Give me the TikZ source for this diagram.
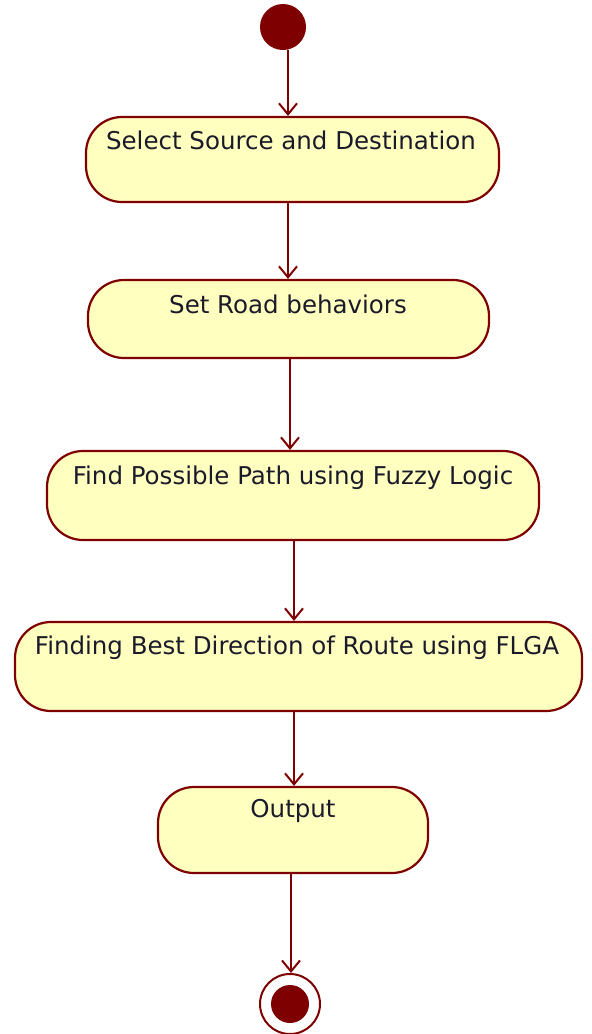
\documentclass[tikz,border=0pt]{standalone}
\usepackage{fontspec}
\setmainfont{DejaVu Sans}
\usetikzlibrary{arrows.meta}
\definecolor{umlred}{HTML}{7F0000}
\definecolor{umlfill}{HTML}{FFFFC0}
\definecolor{umltext}{HTML}{1A1A2A}
\tikzset{
  actbox/.style={draw=umlred, fill=umlfill, line width=2.2pt, rounded corners=36pt, inner sep=0pt},
  acttext/.style={anchor=center, font=\fontsize{24.5}{28}\selectfont, text=umltext, inner sep=0pt},
  flow/.style={draw=umlred, line width=2.2pt, -{Straight Barb[length=11pt,width=18pt,line width=2pt]}},
}
\begin{document}
\begin{tikzpicture}[x=1pt,y=-1pt]
\useasboundingbox (0,0) rectangle (592,1034);
\node[circle, fill=umlred, minimum size=46pt, inner sep=0pt] (start) at (283,27) {};
\node[actbox, minimum width=413pt, minimum height=85pt] (b1) at (292.5,159.5) {};
\node[acttext] (t1) at (291,140) {Select Source and Destination};
\node[actbox, minimum width=401pt, minimum height=78pt] (b2) at (288.5,319) {};
\node[acttext] (t2) at (288,304) {Set Road behaviors};
\node[actbox, minimum width=492pt, minimum height=89pt] (b3) at (293,495.5) {};
\node[acttext] (t3) at (293,478) {Find Possible Path using Fuzzy Logic};
\node[actbox, minimum width=567pt, minimum height=89pt] (b4) at (298.5,666.5) {};
\node[acttext] (t4) at (297,648) {Finding Best Direction of Route using FLGA};
\node[actbox, minimum width=270pt, minimum height=86pt] (b5) at (293,830) {};
\node[acttext] (t5) at (293,811) {Output};
\node[circle, draw=umlred, line width=2pt, fill=white, minimum size=60pt, inner sep=0pt] (endo) at (290,1004) {};
\node[circle, fill=umlred, minimum size=38pt, inner sep=0pt] (endi) at (endo.center) {};
\draw[flow] (start.south -| 288,0) -- (288,0 |- b1.north);
\draw[flow] (b1.south -| 288,0) -- (288,0 |- b2.north);
\draw[flow] (b2.south -| 290,0) -- (290,0 |- b3.north);
\draw[flow] (b3.south -| 294,0) -- (294,0 |- b4.north);
\draw[flow] (b4.south -| 294,0) -- (294,0 |- b5.north);
\draw[flow] (b5.south -| 291,0) -- (291,0 |- endo.north);
\end{tikzpicture}
\end{document}
